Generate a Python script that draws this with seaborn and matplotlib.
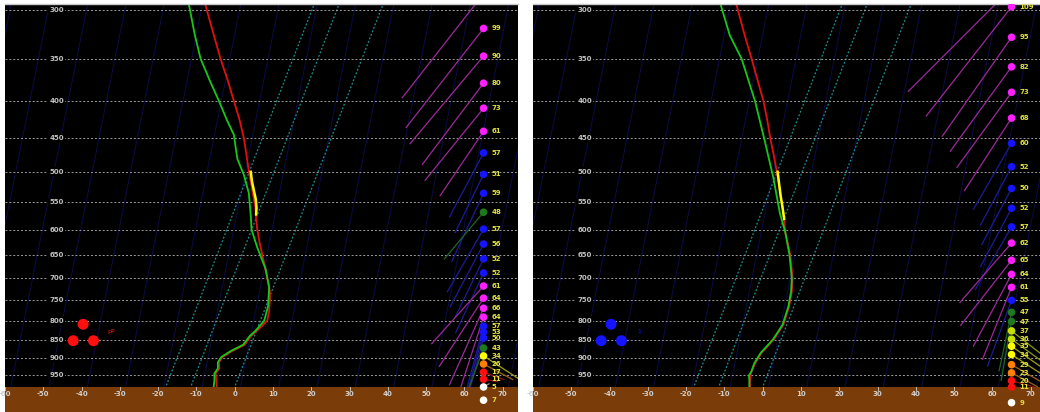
import numpy as np
import pandas as pd
import matplotlib
matplotlib.use("Agg")
import matplotlib.pyplot as plt
import matplotlib.transforms as mtransforms
import seaborn as sns

# ---------------------------------------------------------------- data
# Sounding profiles (pressure in hPa, plotted temperature in degC on the skewed axis)
p_temp_left = [296, 320, 350, 375, 400, 425, 450, 475, 500, 530, 560, 580, 600, 625, 650,
               675, 700, 730, 750, 775, 800, 825, 840, 863, 880, 897, 912, 930, 945, 965, 986]
t_temp_left = [-7.6, -5.8, -3.7, -1.8, -0.2, 1.3, 2.4, 3.1, 3.7, 4.6, 5.4, 5.6, 5.9, 6.5, 7.2,
               7.9, 8.5, 9.2, 9.2, 9.0, 8.5, 5.9, 4.2, 2.6, -0.6, -3.2, -4.1, -4.0, -5.0, -4.8, -4.7]
p_virt_left = [296, 325, 350, 375, 400, 425, 445, 465, 480, 505, 535, 575, 600, 635, 680,
               720, 765, 800, 825, 840, 863, 880, 897, 912, 930, 945, 965, 986]
t_virt_left = [-11.9, -10.4, -8.9, -6.5, -4.1, -2.0, -0.2, 0.3, 0.7, 2.4, 3.7, 4.2, 4.4, 5.9, 8.1,
               9.0, 8.7, 7.7, 5.5, 3.9, 2.2, -1.0, -3.5, -4.4, -4.4, -5.3, -5.3, -5.5]
p_layer_left = [500, 515, 530, 545, 560, 572]
t_layer_left = [4.2, 4.5, 5.0, 5.5, 5.7, 5.6]

p_temp_right = [296, 325, 350, 375, 400, 425, 450, 475, 500, 540, 580, 605, 650, 700,
                730, 765, 810, 850, 885, 915, 945, 965, 986]
t_temp_right = [-6.8, -4.7, -2.9, -1.3, 0.2, 1.2, 2.0, 2.9, 3.7, 4.7, 5.6, 5.9, 7.2, 7.8,
                7.6, 6.9, 5.4, 2.8, -0.3, -2.0, -3.1, -3.3, -3.3]
p_virt_right = [296, 325, 350, 375, 400, 455, 510, 570, 605, 650, 700, 730, 765, 810,
                850, 885, 915, 940, 950, 965, 986]
t_virt_right = [-10.9, -8.6, -5.5, -3.7, -2.0, 0.6, 2.8, 4.5, 5.9, 7.0, 7.6, 7.4, 6.7, 5.2,
                2.6, -0.5, -2.2, -3.0, -3.6, -3.5, -3.5]
p_layer_right = [500, 520, 540, 560, 580]
t_layer_right = [3.9, 4.3, 4.7, 5.2, 5.6]

# Wind column: pressure, speed, direction (deg) and colour class
p_wind_left = [285, 318, 347, 378, 409, 440, 471, 504, 535, 568, 599, 628, 658, 688, 717,
               745, 769, 791, 814, 829, 845, 872, 894, 917, 941, 962, 986, 1028]
spd_wind_left = [104, 99, 90, 80, 73, 61, 57, 51, 59, 48, 57, 56, 52, 52, 61,
                 64, 66, 64, 57, 53, 50, 43, 34, 26, 17, 11, 5, 7]
dir_wind_left = [218, 218, 220, 217, 219, 214, 208, 206, 205, 220, 210, 208, 206, 205, 222,
                 213, 204, 198, 195, 195, 195, 200, 123, 118, 110, 100, 60, 60]
cls_wind_left = ["m", "m", "m", "m", "m", "m", "b", "b", "b", "g", "b", "b", "b", "b", "m",
                 "m", "m", "m", "b", "b", "b", "g", "y", "o", "r", "r", "w", "w"]

p_wind_right = [280, 297, 327, 359, 389, 422, 457, 492, 527, 561, 595, 626, 661, 691, 720,
                750, 779, 802, 826, 848, 867, 890, 919, 943, 967, 986, 1036]
spd_wind_right = [115, 109, 95, 82, 73, 68, 60, 52, 50, 52, 57, 62, 65, 64, 61,
                  55, 47, 47, 37, 36, 35, 34, 29, 23, 20, 11, 9]
dir_wind_right = [225, 218, 215, 216, 216, 213, 210, 208, 208, 208, 210, 221, 218, 208, 202,
                  200, 192, 190, 128, 126, 125, 123, 120, 118, 105, 95, 60]
cls_wind_right = ["m", "m", "m", "m", "m", "m", "b", "b", "b", "b", "b", "m", "m", "m", "m",
                  "b", "g", "g", "k", "k", "y", "y", "o", "o", "r", "r", "w"]

# Cloud symbol marks
cloud_x = [-39.6, -42.2, -36.9]
cloud_p = [809, 852, 852]

# Axis labels
pressure_ticks = [300, 350, 400, 450, 500, 550, 600, 650, 700, 750, 800, 850, 900, 950]
temp_ticks = [-60, -50, -40, -30, -20, -10, 0, 10, 20, 30, 40, 50, 60, 70]

# Background line families (temperature at the surface)
isotherm_base = list(range(-110, 80, 10))
highlight_base = [-18, -11.5, 0]

# ---------------------------------------------------------------- styling
P_TOP, P_BOT, P_SFC = 294.4, 1067.0, 986.0
X_MIN, X_MAX = -60, 74
W_PX, H_PX = 513, 408
PX_PER_X = W_PX / (X_MAX - X_MIN)
PX_PER_LNP = H_PX / np.log(P_BOT / P_TOP)
STICK_PX_PER_KT = 1.27
WIND_X = 65

circle_colors = {"m": "#ff20ff", "b": "#1414ff", "g": "#1e7a1e", "k": "#c8e000",
                 "y": "#ffff00", "o": "#ff8000", "r": "#ff1010", "w": "#ffffff"}
stick_colors = {"m": "#9a2a9a", "b": "#1c1c96", "g": "#1f661f", "k": "#8a9a10",
                "y": "#a0a010", "o": "#a06010", "r": "#901010", "w": "#909090"}

fig = plt.figure(figsize=(10.4, 4.12), dpi=100, facecolor="white")
ax_l = fig.add_axes([5 / 1040, 0, W_PX / 1040, H_PX / 412])
ax_r = fig.add_axes([533 / 1040, 0, W_PX / 1040, H_PX / 412])


def draw_frame(ax):
    ax.set_facecolor("black")
    ax.set_yscale("log")
    ax.set_xlim(X_MIN, X_MAX)
    ax.set_ylim(P_BOT, P_TOP)
    ax.set_xticks([])
    ax.set_yticks([])
    ax.minorticks_off()
    for side in ("left", "right", "bottom"):
        ax.spines[side].set_visible(False)
    ax.spines["top"].set_color("#c8c8c8")
    ax.spines["top"].set_linewidth(1.0)

    p = np.geomspace(250, P_SFC, 60)
    k_iso = 20.0 / np.log(P_SFC / 296)
    k_hi = 38.6 / np.log(P_SFC / 296)
    for t0 in isotherm_base:
        ax.plot(t0 + 1.5 + k_iso * np.log(P_SFC / p), p, color="#0b0b44", lw=0.75, zorder=1)
    for t0 in highlight_base:
        ax.plot(t0 + k_hi * np.log(P_SFC / p), p, color="#1a9090", lw=0.9,
                ls=(0, (1.5, 1.5)), zorder=1)
    for pl in pressure_ticks:
        ax.axhline(pl, color="#9a9a9a", lw=0.7, ls=(0, (2, 2)), zorder=1)
        ax.text(-46.5, pl, str(pl), ha="center", va="center", fontsize=5,
                color="#c0c0c0", fontweight="bold", zorder=4,
                bbox=dict(fc="black", ec="none", pad=1.0))

    ax.axhspan(P_SFC, P_BOT, color="#7a3c08", zorder=3, lw=0)
    trans = mtransforms.blended_transform_factory(ax.transData, ax.transAxes)
    for t in temp_ticks:
        ax.text(t, (412 - 394) / H_PX, str(t), transform=trans, ha="center", va="center",
                fontsize=5, color="#d0d0d0", fontweight="bold", zorder=4)
        ax.plot([t, t], [(412 - 390) / H_PX, (412 - 387) / H_PX], transform=trans,
                color="#d0d0d0", lw=0.6, zorder=4)


def draw_profiles(ax, pt, tt, pv, tv, pl, tl):
    sns.lineplot(x=tt, y=pt, sort=False, estimator=None, color="#e01010", lw=1.3, ax=ax, zorder=2)
    sns.lineplot(x=tv, y=pv, sort=False, estimator=None, color="#18c818", lw=1.3, ax=ax, zorder=2)
    sns.lineplot(x=tl, y=pl, sort=False, estimator=None, color="#ffff00", lw=1.8, ax=ax, zorder=2)


def draw_winds(ax, pw, spd, wdir, cls):
    for p, s, d, c in zip(pw, spd, wdir, cls):
        length = s * STICK_PX_PER_KT
        dx = length * np.sin(np.radians(d)) / PX_PER_X
        dy_down = -length * np.cos(np.radians(d))
        p_end = p * np.exp(dy_down / PX_PER_LNP)
        ax.plot([WIND_X, WIND_X + dx], [p, p_end], color=stick_colors[c], lw=0.9, zorder=2)
    df = pd.DataFrame({"x": [WIND_X] * len(pw), "p": pw, "cls": cls})
    sns.scatterplot(data=df, x="x", y="p", hue="cls", palette=circle_colors, s=30,
                    edgecolor="none", legend=False, ax=ax, zorder=5)
    for p, s in zip(pw, spd):
        ax.annotate(str(s), (WIND_X, p), xytext=(5.5, 0), textcoords="offset points",
                    fontsize=5, color="#e0e040", fontweight="bold", va="center",
                    annotation_clip=True, zorder=6)


def draw_cloud(ax, color, label):
    sns.scatterplot(x=cloud_x, y=cloud_p, color=color, s=62, edgecolor="none",
                    legend=False, ax=ax, zorder=5)
    ax.text(-32.3, 828, label, color=color, fontsize=4.5, ha="center", va="center", zorder=5)


for ax in (ax_l, ax_r):
    draw_frame(ax)

draw_profiles(ax_l, p_temp_left, t_temp_left, p_virt_left, t_virt_left, p_layer_left, t_layer_left)
draw_profiles(ax_r, p_temp_right, t_temp_right, p_virt_right, t_virt_right, p_layer_right, t_layer_right)
draw_winds(ax_l, p_wind_left, spd_wind_left, dir_wind_left, cls_wind_left)
draw_winds(ax_r, p_wind_right, spd_wind_right, dir_wind_right, cls_wind_right)
draw_cloud(ax_l, "#ff1010", "pP")
draw_cloud(ax_r, "#1414ff", "1")

for ax in (ax_l, ax_r):
    ax.set_xlabel("")
    ax.set_ylabel("")
    ax.set_xlim(X_MIN, X_MAX)
    ax.set_ylim(P_BOT, P_TOP)

fig.savefig("out.png", dpi=100, facecolor="white")
